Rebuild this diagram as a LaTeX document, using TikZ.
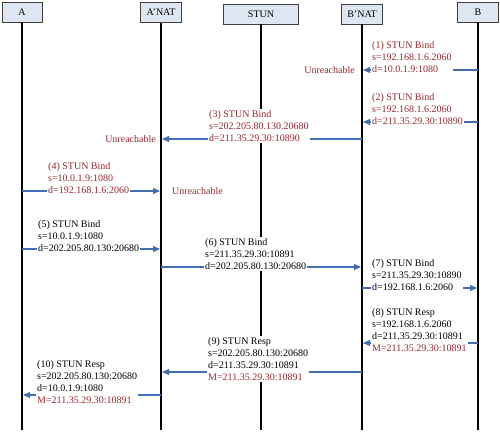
\documentclass[tikz,border=0pt]{standalone}
\usepackage{fontspec}
\setmainfont{Liberation Serif}
\usetikzlibrary{arrows.meta}

\definecolor{msgred}{RGB}{150,40,50}
\definecolor{arrblue}{RGB}{68,110,180}
\definecolor{entfill}{RGB}{222,230,242}

\begin{document}
\begin{tikzpicture}[x=1pt, y=-1pt,
        ent/.style={draw=black!75, fill=entfill, minimum height=20pt,
                    inner sep=0pt, font=\fontsize{10}{11}\selectfont},
        life/.style={line width=2pt},
        msg/.style={draw=arrblue, line width=1.2pt, shorten >=1pt,
                    -{Triangle[length=7pt, width=6pt, fill=arrblue]}},
        lbl/.style={align=left, anchor=north west, fill=white, inner sep=1pt,
                    font=\fontsize{10}{12.2}\selectfont},
        unr/.style={text=msgred, inner sep=1pt, font=\fontsize{10}{12}\selectfont}
    ]
        \useasboundingbox (0,0) rectangle (500,431);

        % entities
        \node[ent, minimum width=40pt] (a) at (22,12) {A};
        \node[ent, minimum width=41pt] (an) at (161,12.5) {A'NAT};
        \node[ent, minimum width=75pt] (stun) at (261,14) {STUN};
        \node[ent, minimum width=41pt] (bn) at (362,14) {B'NAT};
        \node[ent, minimum width=41pt] (b) at (478,12) {B};

        % lifelines
        \coordinate (aend) at (22,430);
        \coordinate (anend) at (161,430);
        \coordinate (stunend) at (261,430);
        \coordinate (bnend) at (362,430);
        \coordinate (bend) at (478,430);
        \draw[life] (a) -- (aend);
        \draw[life] (an) -- (anend);
        \draw[life] (stun) -- (stunend);
        \draw[life] (bn) -- (bnend);
        \draw[life] (b) -- (bend);

        % message ends
        \coordinate (b1) at (478,70);    \coordinate (bn1) at (362,70);
        \coordinate (b2) at (478,122);   \coordinate (bn2) at (362,122);
        \coordinate (bn3) at (362,139);  \coordinate (an3) at (161,139);
        \coordinate (a4) at (22,191);    \coordinate (an4) at (161,191);
        \coordinate (a5) at (22,249);    \coordinate (an5) at (161,249);
        \coordinate (an6) at (161,267);  \coordinate (bn6) at (362,267);
        \coordinate (bn7) at (362,288);  \coordinate (b7) at (478,288);
        \coordinate (b8) at (478,343);   \coordinate (bn8) at (362,343);
        \coordinate (bn9) at (362,372);  \coordinate (an9) at (161,372);
        \coordinate (an10) at (161,395); \coordinate (a10) at (22,395);

        \draw[msg] (b1) -- (bn1);
        \draw[msg] (b2) -- (bn2);
        \draw[msg] (bn3) -- (an3);
        \draw[msg] (a4) -- (an4);
        \draw[msg] (a5) -- (an5);
        \draw[msg] (an6) -- (bn6);
        \draw[msg] (bn7) -- (b7);
        \draw[msg] (b8) -- (bn8);
        \draw[msg] (bn9) -- (an9);
        \draw[msg] (an10) -- (a10);

        % B blocked at B'NAT
        \node[lbl, text=msgred] (m1) at (371,40) {(1) STUN Bind\\s=192.168.1.6.2060\\d=10.0.1.9:1080};
        \node[unr, anchor=east] (u1) at (356,70) {Unreachable};
        \node[lbl, text=msgred] (m2) at (371,92) {(2) STUN Bind\\s=192.168.1.6.2060\\d=211.35.29.30:10890};
        \node[lbl, text=msgred] (m3) at (208,109) {(3) STUN Bind\\s=202.205.80.130.20680\\d=211.35.29.30:10890};
        \node[unr, anchor=east] (u3) at (157,139) {Unreachable};

        % A blocked at A'NAT
        \node[lbl, text=msgred] (m4) at (47,161) {(4) STUN Bind\\s=10.0.1.9:1080\\d=192.168.1.6:2060};
        \node[unr, anchor=west] (u4) at (171,191) {Unreachable};

        % relay through STUN
        \node[lbl] (m5) at (37,219) {(5) STUN Bind\\s=10.0.1.9:1080\\d=202.205.80.130:20680};
        \node[lbl] (m6) at (204,237) {(6) STUN Bind\\s=211.35.29.30:10891\\d=202.205.80.130:20680};
        \node[lbl] (m7) at (371,258) {(7) STUN Bind\\s=211.35.29.30:10890\\d=192.168.1.6:2060};
        \node[lbl] (m8) at (371,307) {(8) STUN Resp\\s=192.168.1.6.2060\\d=211.35.29.30:10891\\{\color{msgred}M=211.35.29.30:10891}};
        \node[lbl] (m9) at (207,336) {(9) STUN Resp\\s=202.205.80.130:20680\\d=211.35.29.30:10891\\{\color{msgred}M=211.35.29.30:10891}};
        \node[lbl] (m10) at (36,359) {(10) STUN Resp\\s=202.205.80.130:20680\\d=10.0.1.9:1080\\{\color{msgred}M=211.35.29.30:10891}};
    \end{tikzpicture}
\end{document}
